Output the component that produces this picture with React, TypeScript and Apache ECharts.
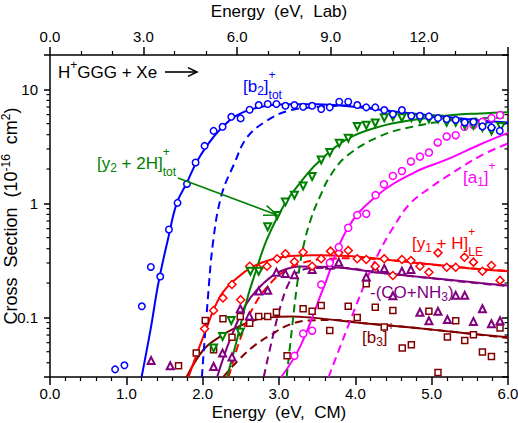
import React, { useEffect, useRef } from 'react';
import * as echarts from 'echarts';

const FONT = '"Liberation Sans", Arial, Helvetica, sans-serif';

// ---- axes ----
const xMin = 0;
const xMax = 6;
const massRatio = 131.29 / (131.29 + 190.18); // E_CM / E_Lab for H+GGG + Xe
const labMax = xMax / massRatio;
const yMin = 0.03;
const yMax = 20;
const yMinorTicks = [0.04, 0.05, 0.06, 0.07, 0.08, 0.09, 0.2, 0.3, 0.4, 0.5, 0.6, 0.7, 0.8, 0.9, 2, 3, 4, 5, 6, 7, 8, 9];

// ---- data points [E_CM, cross section] ----
const b2Pts = [
  [0.853, 0.035], [0.975, 0.038], [1.203, 0.125], [1.321, 0.277], [1.444, 0.228], [1.558, 0.59], [1.671, 1.01], [1.794, 1.48],
  [1.907, 2.28], [2.025, 3.19], [2.143, 4.32], [2.261, 4.69], [2.375, 5.74], [2.497, 5.56], [2.615, 6.62], [2.734, 7.28],
  [2.852, 7.43], [2.966, 7.43], [3.084, 7.17], [3.202, 7.28], [3.316, 7.03], [3.434, 7.17], [3.553, 6.71], [3.665, 6.95],
  [3.789, 7.78], [3.907, 7.78], [4.025, 7.28], [4.143, 6.95], [4.261, 6.95], [4.379, 6.58], [4.492, 6.07], [4.61, 6.58],
  [4.734, 5.86], [4.846, 5.86], [4.964, 5.79], [5.083, 5.59], [5.197, 5.48], [5.315, 5.4], [5.433, 5.13], [5.547, 5.19],
  [5.665, 4.73], [5.783, 4.63], [5.892, 4.32],
];
const y2Pts = [
  [2.143, 0.054], [2.261, 0.068], [2.375, 0.094], [2.493, 0.074], [2.625, 0.254], [2.734, 0.254], [2.852, 0.624], [2.975, 0.784],
  [3.084, 1.03], [3.202, 1.18], [3.316, 1.42], [3.434, 1.72], [3.553, 2.4], [3.665, 2.79], [3.789, 3.37], [3.907, 3.73],
  [4.025, 4.73], [4.143, 4.85], [4.261, 5.06], [4.379, 5.63], [4.492, 5.74], [4.61, 5.63], [4.734, 5.63], [4.846, 5.48],
  [4.964, 5.48], [5.083, 5.48], [5.197, 5.13], [5.315, 5.13], [5.433, 4.85], [5.547, 4.85], [5.665, 4.63], [5.783, 4.32],
  [5.906, 4.73],
];
const a1Pts = [
  [3.202, 0.046], [3.316, 0.072], [3.434, 0.0764], [3.553, 0.194], [3.665, 0.301], [3.783, 0.413], [3.907, 0.611], [4.025, 0.789],
  [4.143, 0.81], [4.265, 1.18], [4.374, 1.47], [4.492, 1.74], [4.61, 1.92], [4.728, 2.33], [4.846, 2.57], [4.964, 2.79],
  [5.079, 3.42], [5.197, 3.86], [5.315, 3.96], [5.429, 4.69], [5.547, 4.85], [5.665, 5.19], [5.783, 5.59], [5.896, 5.94],
];
const y1Pts = [
  [2.025, 0.0796], [2.143, 0.115], [2.266, 0.148], [2.384, 0.194], [2.498, 0.143], [2.616, 0.281], [2.734, 0.268], [2.843, 0.281],
  [2.975, 0.327], [3.084, 0.361], [3.202, 0.307], [3.316, 0.373], [3.434, 0.281], [3.553, 0.327], [3.675, 0.381], [3.783, 0.368],
  [3.907, 0.386], [4.025, 0.327], [4.143, 0.322], [4.261, 0.281], [4.379, 0.327], [4.492, 0.233], [4.61, 0.322], [4.728, 0.315],
  [4.846, 0.281], [4.964, 0.249], [5.083, 0.368], [5.197, 0.275], [5.315, 0.275], [5.429, 0.337], [5.547, 0.305], [5.665, 0.254],
  [5.783, 0.285], [5.896, 0.211],
];
const coPts = [
  [1.325, 0.0418], [1.575, 0.0376], [2.143, 0.0371], [2.261, 0.0486], [2.384, 0.045], [2.493, 0.119], [2.612, 0.103], [2.734, 0.17],
  [2.852, 0.173], [2.966, 0.249], [3.084, 0.242], [3.202, 0.237], [3.434, 0.263], [3.665, 0.286], [3.783, 0.305], [4.143, 0.226],
  [4.261, 0.267], [4.379, 0.268], [4.492, 0.155], [4.61, 0.254], [4.728, 0.263], [4.846, 0.111], [4.964, 0.0935], [5.083, 0.113],
  [5.206, 0.0957], [5.315, 0.156], [5.433, 0.156], [5.547, 0.0922], [5.665, 0.119], [5.783, 0.088], [5.896, 0.0935],
];
const b3Pts = [
  [1.684, 0.0376], [1.916, 0.0486], [2.034, 0.094], [2.143, 0.052], [2.266, 0.0973], [2.384, 0.067], [2.493, 0.102], [2.616, 0.089],
  [2.734, 0.102], [2.852, 0.102], [2.966, 0.111], [3.106, 0.046], [3.316, 0.119], [3.434, 0.113], [3.553, 0.127], [3.665, 0.0768],
  [3.907, 0.125], [4.025, 0.1], [4.143, 0.197], [4.261, 0.123], [4.379, 0.0823], [4.492, 0.115], [4.615, 0.0538], [4.734, 0.0575],
  [4.964, 0.113], [5.083, 0.0328], [5.206, 0.0673], [5.315, 0.0935], [5.433, 0.0628], [5.547, 0.0705], [5.665, 0.0496], [5.783, 0.0454],
  [5.896, 0.0806],
];

// ---- fitted curves (solid) and convoluted/threshold curves (dashed) ----
const b2Fit = [[1.2, 0.03], [1.32, 0.08], [1.42, 0.2], [1.55, 0.5], [1.66, 1.0], [1.79, 1.5], [1.93, 2.36], [2.14, 3.8], [2.41, 5.7], [2.71, 6.9], [3.13, 7.4], [3.5, 7.4], [4.0, 7.0], [4.5, 6.4], [5.0, 5.9], [5.5, 5.45], [6.0, 5.12]];
const b2Dash = [[1.99, 0.03], [2.06, 0.125], [2.14, 0.48], [2.25, 1.2], [2.41, 2.2], [2.58, 3.78], [2.84, 5.3], [3.13, 6.5], [3.5, 7.0], [3.9, 7.2], [4.3, 6.7], [4.7, 6.1], [5.2, 5.6], [5.6, 5.25], [6.0, 4.95]];
const y2Fit = [[2.32, 0.03], [2.45, 0.064], [2.58, 0.143], [2.69, 0.246], [2.84, 0.48], [3.06, 0.95], [3.28, 1.52], [3.5, 2.25], [3.89, 3.65], [4.33, 4.73], [4.77, 5.4], [5.21, 5.9], [5.64, 6.15], [6.0, 6.3]];
const y2Dash = [[3.1, 0.03], [3.17, 0.08], [3.24, 0.2], [3.32, 0.42], [3.43, 0.77], [3.54, 1.16], [3.67, 1.74], [3.89, 2.61], [4.33, 3.9], [4.77, 4.73], [5.21, 5.29], [5.64, 5.56], [6.0, 5.67]];
const a1Fit = [[3.03, 0.03], [3.28, 0.056], [3.59, 0.187], [3.89, 0.59], [4.27, 1.15], [4.77, 1.86], [5.21, 2.44], [5.64, 3.3], [6.0, 4.15]];
const a1Dash = [[3.65, 0.03], [3.8, 0.055], [3.95, 0.1], [4.1, 0.18], [4.3, 0.36], [4.5, 0.62], [4.72, 1.0], [5.0, 1.4], [5.21, 1.74], [5.64, 2.61], [6.0, 3.35]];
const y1Fit = [[1.815, 0.03], [2.01, 0.068], [2.23, 0.153], [2.45, 0.222], [2.67, 0.281], [2.89, 0.32], [3.15, 0.345], [3.46, 0.35], [3.89, 0.345], [4.33, 0.325], [4.77, 0.302], [5.21, 0.282], [5.64, 0.264], [6.0, 0.254]];
const y1Dash = [[2.34, 0.03], [2.49, 0.064], [2.67, 0.125], [2.89, 0.2], [3.13, 0.27], [3.3, 0.3], [3.6, 0.325], [4.0, 0.33], [4.5, 0.315], [5.0, 0.29], [5.5, 0.27], [6.0, 0.255]];
const coFit = [[2.19, 0.03], [2.36, 0.064], [2.58, 0.134], [2.8, 0.2], [3.02, 0.254], [3.28, 0.28], [3.67, 0.277], [4.33, 0.246], [4.99, 0.222], [5.64, 0.2], [6.0, 0.19]];
const coDash = [[2.8, 0.03], [2.91, 0.064], [3.02, 0.125], [3.13, 0.2], [3.25, 0.25], [3.45, 0.27], [3.8, 0.272], [4.33, 0.246], [5.0, 0.22], [5.64, 0.198], [6.0, 0.188]];
const b3Fit = [[1.79, 0.03], [2.01, 0.052], [2.23, 0.068], [2.45, 0.082], [2.67, 0.094], [2.89, 0.1], [3.15, 0.102], [3.46, 0.099], [4.11, 0.089], [4.77, 0.081], [5.42, 0.073], [6.0, 0.067]];
const b3Dash = [[2.27, 0.03], [2.45, 0.041], [2.67, 0.056], [2.89, 0.07], [3.13, 0.086], [3.4, 0.094], [3.7, 0.095], [4.11, 0.089], [4.77, 0.081], [5.42, 0.073], [6.0, 0.066]];

const BLUE = '#0000ff';
const GREEN = '#008000';
const MAGENTA = '#ff00ff';
const RED = '#ff0000';
const PURPLE = '#800080';
const BROWN = '#800000';

let ctx: CanvasRenderingContext2D | null = null;
function measure(text: string, size: number): number {
  if (!ctx) ctx = document.createElement('canvas').getContext('2d');
  if (!ctx) return text.length * size * 0.55;
  ctx.font = `${size}px ${FONT}`;
  return ctx.measureText(text).width;
}

function txt(x: number, y: number, text: string, size: number, color: string) {
  return {
    type: 'text', x, y, silent: true, z: 10,
    style: { text, fontSize: size, fontFamily: FONT, fill: color, align: 'left', verticalAlign: 'middle' },
  };
}

type Part = { t?: string; sup?: string; sub?: string; dsub?: string; supDy?: number };
function label(x: number, y: number, parts: Part[], color: string, size = 17) {
  const small = 12;
  const els: any[] = [];
  let cx = x;
  for (const p of parts) {
    if (p.t !== undefined) {
      els.push(txt(cx, y, p.t, size, color));
      cx += measure(p.t, size);
    } else if (p.dsub !== undefined) {
      els.push(txt(cx, y + 5, p.dsub, small, color));
      cx += measure(p.dsub, small);
    } else {
      let w = 0;
      if (p.sup) { els.push(txt(cx, y + (p.supDy ?? -11), p.sup, small, color)); w = Math.max(w, measure(p.sup, small)); }
      if (p.sub) { els.push(txt(cx, y + 9, p.sub, small, color)); w = Math.max(w, measure(p.sub, small)); }
      cx += w;
    }
  }
  return els;
}

function arrow(x1: number, y1: number, x2: number, y2: number, color: string, len: number, ang: number) {
  const a = Math.atan2(y2 - y1, x2 - x1);
  const p1 = [x2 - len * Math.cos(a - ang), y2 - len * Math.sin(a - ang)];
  const p2 = [x2 - len * Math.cos(a + ang), y2 - len * Math.sin(a + ang)];
  return [
    { type: 'line', silent: true, z: 10, shape: { x1, y1, x2, y2 }, style: { stroke: color, lineWidth: 1.6 } },
    { type: 'polyline', silent: true, z: 10, shape: { points: [p1, [x2, y2], p2] }, style: { stroke: color, lineWidth: 1.6, fill: null } },
  ];
}

const axisLineStyle = { color: '#000', width: 1.5 };

function lineSeries(data: number[][], color: string, dashed: boolean) {
  return {
    type: 'line', data, smooth: 0.4, showSymbol: false, symbol: 'none', silent: true,
    lineStyle: { color, width: 2, type: dashed ? [8, 5] : 'solid' },
    z: 2,
  };
}
function scatterSeries(data: number[][], color: string, symbol: string, size: number, rotate = 0, bw = 1.5) {
  return {
    type: 'scatter', data, symbol, symbolSize: size, symbolRotate: rotate, silent: true,
    itemStyle: { color: '#fff', borderColor: color, borderWidth: bw, opacity: 1 },
    z: 3,
  };
}

function logLabel(v: number) {
  const l = Math.log10(v);
  const r = Math.round(l);
  if (Math.abs(l - r) > 1e-6) return '';
  return r < 0 ? v.toFixed(-r) : String(Math.round(v));
}

export default function App() {
  const ref = useRef<HTMLDivElement>(null);
  useEffect(() => {
    const chart = echarts.init(ref.current!, null, { renderer: 'svg' });
    const graphics: any[] = [
      ...label(58, 72, [{ t: 'H' }, { sup: '+', supDy: -7 }, { t: 'GGG + Xe' }], '#000'),
      ...arrow(165, 72, 197, 72, '#000', 10, 0.45),
      ...label(243, 86, [{ t: '[b' }, { dsub: '2' }, { t: ']' }, { sup: '+', sub: 'tot' }], BLUE),
      ...label(97, 163, [{ t: '[y' }, { dsub: '2' }, { t: ' + 2H]' }, { sup: '+', sub: 'tot' }], GREEN),
      ...arrow(178, 178, 277, 215, GREEN, 14, 0.38),
      ...label(463, 177, [{ t: '[a' }, { dsub: '1' }, { t: ']' }, { sup: '+' }], MAGENTA),
      ...label(412, 243, [{ t: '[y' }, { dsub: '1' }, { t: ' + H]' }, { sup: '+', sub: 'LE' }], RED),
      ...label(370, 292, [{ t: '-(CO+NH' }, { dsub: '3' }, { t: ')' }], PURPLE),
      ...label(362, 337, [{ t: '[b' }, { dsub: '3' }, { t: ']' }, { sup: '+' }], BROWN),
    ];
    const option: any = {
      animation: false,
      backgroundColor: '#fff',
      textStyle: { fontFamily: FONT },
      grid: { left: 50, right: 10, top: 55, bottom: 46, containLabel: false, outerBoundsMode: 'none' },
      xAxis: [
        {
          type: 'value', position: 'bottom', min: xMin, max: xMax, interval: 1,
          name: 'Energy  (eV,  CM)', nameLocation: 'middle', nameGap: 27, nameMoveOverlap: false,
          nameTextStyle: { fontSize: 17, color: '#000', fontFamily: FONT },
          axisLine: { show: true, onZero: false, lineStyle: axisLineStyle },
          axisTick: { show: true, inside: false, length: 8, lineStyle: axisLineStyle },
          minorTick: { show: true, splitNumber: 5, length: 4, lineStyle: { color: '#000', width: 1.2 } },
          axisLabel: { fontSize: 15, color: '#000', margin: 9, fontFamily: FONT, formatter: (v: number) => v.toFixed(1) },
          splitLine: { show: false },
        },
        {
          type: 'value', position: 'top', min: 0, max: labMax, interval: 3,
          name: 'Energy  (eV,  Lab)', nameLocation: 'middle', nameGap: 35, nameMoveOverlap: false,
          nameTextStyle: { fontSize: 17, color: '#000', fontFamily: FONT },
          axisLine: { show: true, onZero: false, lineStyle: axisLineStyle },
          axisTick: { show: true, inside: false, length: 8, lineStyle: axisLineStyle },
          minorTick: { show: true, splitNumber: 3, length: 4, lineStyle: { color: '#000', width: 1.2 } },
          axisLabel: {
            fontSize: 15, color: '#000', margin: 11, fontFamily: FONT,
            formatter: (v: number) => (Math.abs(v / 3 - Math.round(v / 3)) < 1e-6 ? v.toFixed(1) : ''),
          },
          splitLine: { show: false },
        },
      ],
      yAxis: [
        {
          type: 'log', logBase: 10, min: yMin, max: yMax, position: 'left',
          name: '{n|Cross  Section  (10}{s|-16}{n|  cm}{s|2}{n|)}',
          nameLocation: 'middle', nameGap: 28, nameRotate: 90, nameMoveOverlap: false,
          nameTextStyle: {
            color: '#000', fontFamily: FONT,
            rich: {
              n: { fontSize: 18, fontFamily: FONT, color: '#000', lineHeight: 22 },
              s: { fontSize: 12, fontFamily: FONT, color: '#000', verticalAlign: 'top', lineHeight: 14 },
            },
          },
          axisLine: { show: true, onZero: false, lineStyle: axisLineStyle },
          axisTick: { show: true, inside: false, length: 6, lineStyle: axisLineStyle },
          minorTick: { show: false },
          axisLabel: { fontSize: 15, color: '#000', margin: 12, fontFamily: FONT, formatter: logLabel },
          splitLine: { show: false },
        },
        {
          type: 'log', logBase: 10, min: yMin, max: yMax, position: 'right',
          axisLine: { show: true, onZero: false, lineStyle: axisLineStyle },
          axisTick: { show: true, inside: true, length: 6, lineStyle: axisLineStyle },
          minorTick: { show: false },
          axisLabel: { show: false },
          splitLine: { show: false },
        },
      ],
      graphic: { elements: graphics },
      series: [
        {
          type: 'custom', silent: true, clip: false, z: 1,
          data: yMinorTicks.map((v) => [xMin, v]),
          renderItem: (_p: any, api: any) => {
            const v = api.value(1);
            const l = api.coord([xMin, v]);
            const r = api.coord([xMax, v]);
            return {
              type: 'group',
              children: [
                { type: 'line', shape: { x1: l[0] - 3.5, y1: l[1], x2: l[0], y2: l[1] }, style: { stroke: '#000', lineWidth: 1.2 } },
                { type: 'line', shape: { x1: r[0] - 3.5, y1: r[1], x2: r[0], y2: r[1] }, style: { stroke: '#000', lineWidth: 1.2 } },
              ],
            };
          },
        },
        lineSeries(b3Dash, BROWN, true),
        lineSeries(b3Fit, BROWN, false),
        lineSeries(coDash, PURPLE, true),
        lineSeries(coFit, PURPLE, false),
        lineSeries(y1Dash, RED, true),
        lineSeries(y1Fit, RED, false),
        lineSeries(a1Dash, MAGENTA, true),
        lineSeries(a1Fit, MAGENTA, false),
        lineSeries(y2Dash, GREEN, true),
        lineSeries(y2Fit, GREEN, false),
        lineSeries(b2Dash, BLUE, true),
        lineSeries(b2Fit, BLUE, false),
        scatterSeries(b3Pts, BROWN, 'rect', 6),
        scatterSeries(coPts, PURPLE, 'triangle', 7, 0, 2),
        scatterSeries(y1Pts, RED, 'diamond', 8),
        scatterSeries(a1Pts, MAGENTA, 'circle', 7),
        scatterSeries(y2Pts, GREEN, 'triangle', 7, 180, 2),
        scatterSeries(b2Pts, BLUE, 'circle', 6.5),
      ],
    };
    chart.setOption(option);
    return () => chart.dispose();
  }, []);
  return (
    <div
      ref={ref}
      style={{ position: 'absolute', left: 0, top: 0, width: 518, height: 423, background: '#fff' }}
    />
  );
}
